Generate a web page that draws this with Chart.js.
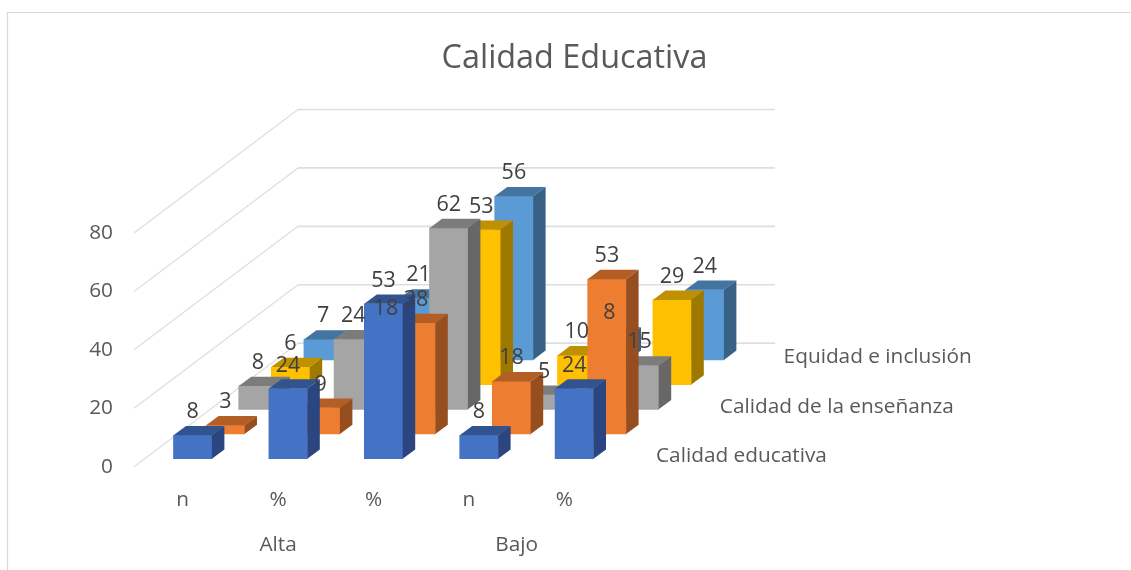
<!DOCTYPE html>
<html>
<head>
<meta charset="utf-8">
<style>html,body{margin:0;padding:0;background:#fff}canvas{display:block}</style>
<script src="https://cdn.jsdelivr.net/npm/chart.js@4/dist/chart.umd.min.js"></script>
</head>
<body>
<canvas id="c" width="1131" height="570"></canvas>
<script>
const categories = ["n", "%", "%", "n", "%"];
const groups = [{label: "Alta", from: 0, to: 2}, {label: "Bajo", from: 3, to: 4}];
const seriesNames = ["Calidad educativa", "Serie 2", "Calidad de la enseñanza", "Serie 4", "Equidad e inclusión"];
const shownDepthLabels = ["Calidad educativa", "Calidad de la enseñanza", "Equidad e inclusión"];
const blueValues = [8, 24, 53, 8, 24];
const orangeValues = [3, 9, 38, 18, 53];
const grayValues = [8, 24, 62, 5, 15];
const yellowValues = [6, 18, 53, 10, 29];
const lightBlueValues = [7, 21, 56, 8, 24];
const seriesValues = [blueValues, orangeValues, grayValues, yellowValues, lightBlueValues];
const frontColors = ["#4472C4", "#ED7D31", "#A5A5A5", "#FFC000", "#5B9BD5"];
const topColors = ["#31548F", "#B35E25", "#7C7C7C", "#BF9000", "#4475A1"];
const sideColors = ["#2A4580", "#964E1F", "#676767", "#9F7800", "#386185"];

const FONT = "'Open Sans', sans-serif";
const TEXT = "#595959", LABEL = "#404040", GRID = "#dedede";
const STEP_X = 32.6, STEP_Y = 24.7, N = seriesValues.length;
const GAP_X = 10, GAP_Y = 8;
const FACE_X = 12.5, FACE_Y = 9.3;
const AXIS_FS = 20.8, LABEL_FS = 21.5;

const shiftX = i => GAP_X + i * STEP_X;
const shiftY = i => -GAP_Y - i * STEP_Y;

const bars3d = {
  id: "bars3d",
  afterLayout(chart) {
    chart.titleBlock.left = 18;
    chart.titleBlock.right = 1131;
  },
  beforeDraw(chart) {
    const {ctx} = chart;
    ctx.save();
    ctx.fillStyle = "#fff";
    ctx.fillRect(0, 0, chart.width, chart.height);
    ctx.strokeStyle = "#d9d9d9";
    ctx.lineWidth = 1.2;
    ctx.beginPath();
    ctx.moveTo(7.5, chart.height);
    ctx.lineTo(7.5, 12.5);
    ctx.lineTo(chart.width, 12.5);
    ctx.stroke();
    ctx.restore();
  },
  beforeDatasetsDraw(chart) {
    const {ctx, chartArea: a, scales: {y}} = chart;
    const dx = N * STEP_X, dy = N * STEP_Y;
    ctx.save();
    ctx.strokeStyle = GRID;
    y.ticks.forEach(t => {
      const py = y.getPixelForValue(t.value);
      ctx.lineWidth = 1.2;
      ctx.beginPath();
      ctx.moveTo(a.left - 1, py);
      ctx.lineTo(a.left + dx, py - dy);
      ctx.stroke();
      ctx.lineWidth = 1.7;
      ctx.beginPath();
      ctx.moveTo(a.left + dx, py - dy);
      ctx.lineTo(a.right + dx, py - dy);
      ctx.stroke();
    });
    ctx.restore();
  },
  beforeDatasetDraw(chart, args) {
    const {ctx} = chart;
    ctx.save();
    ctx.translate(shiftX(args.index), shiftY(args.index));
  },
  afterDatasetDraw(chart, args) {
    const {ctx} = chart;
    const i = args.index;
    args.meta.data.forEach(el => {
      const {x, y, base, width} = el.getProps(["x", "y", "base", "width"], true);
      const l = x - width / 2, r = x + width / 2;
      ctx.fillStyle = topColors[i];
      ctx.beginPath();
      ctx.moveTo(l, y);
      ctx.lineTo(l + FACE_X, y - FACE_Y);
      ctx.lineTo(r + FACE_X, y - FACE_Y);
      ctx.lineTo(r, y);
      ctx.closePath();
      ctx.fill();
      ctx.fillStyle = sideColors[i];
      ctx.beginPath();
      ctx.moveTo(r, y);
      ctx.lineTo(r + FACE_X, y - FACE_Y);
      ctx.lineTo(r + FACE_X, base - FACE_Y);
      ctx.lineTo(r, base);
      ctx.closePath();
      ctx.fill();
    });
    ctx.restore();
  },
  afterDatasetsDraw(chart) {
    const {ctx, chartArea: a, scales: {x: xs, y: ys}} = chart;
    ctx.save();
    ctx.textBaseline = "middle";
    ctx.font = LABEL_FS + "px " + FONT;
    ctx.fillStyle = LABEL;
    ctx.textAlign = "center";
    for (let i = N - 1; i >= 0; i--) {
      chart.getDatasetMeta(i).data.forEach((el, j) => {
        const p = el.getProps(["x", "y"], true);
        ctx.fillText(String(seriesValues[i][j]), p.x + shiftX(i), p.y + shiftY(i) - 23.2);
      });
    }
    ctx.font = AXIS_FS + "px " + FONT;
    ctx.fillStyle = TEXT;
    ctx.textAlign = "left";
    seriesNames.forEach((name, i) => {
      if (!shownDepthLabels.includes(name)) return;
      ctx.fillText(name, a.right + i * STEP_X + 44 - i * 0.7, ys.getPixelForValue(0) + shiftY(i) - 2.7);
    });
    ctx.textAlign = "center";
    groups.forEach(g => {
      const cx = (xs.getPixelForTick(g.from) + xs.getPixelForTick(g.to)) / 2;
      ctx.fillText(g.label, cx, 545.5);
    });
    ctx.restore();
  }
};

new Chart(document.getElementById("c"), {
  type: "bar",
  data: {
    labels: categories,
    datasets: seriesValues.map((v, i) => ({
      label: seriesNames[i],
      data: v,
      backgroundColor: frontColors[i],
      borderWidth: 0,
      barThickness: 38.4,
      grouped: false,
      clip: false
    }))
  },
  plugins: [bars3d],
  options: {
    responsive: false,
    animation: false,
    events: [],
    layout: {padding: {left: 0, top: 0, right: 519, bottom: 0}},
    plugins: {
      legend: {display: false},
      tooltip: {enabled: false},
      title: {
        display: true,
        text: "Calidad Educativa",
        color: TEXT,
        font: {family: FONT, size: 32.4, weight: "normal", lineHeight: 1.2},
        padding: {top: 39.5, bottom: 154.6}
      }
    },
    scales: {
      x: {
        grid: {display: false, drawTicks: false},
        border: {display: false},
        ticks: {color: TEXT, font: {family: FONT, size: AXIS_FS}, padding: 21, maxRotation: 0, autoSkip: false},
        afterFit(s) { s.height = 103.3; }
      },
      y: {
        min: 0,
        max: 80,
        grid: {display: false, drawTicks: false},
        border: {display: false},
        ticks: {stepSize: 20, color: TEXT, font: {family: FONT, size: AXIS_FS}, padding: 22},
        afterFit(s) { s.width = 135; }
      }
    }
  }
});
</script>
</body>
</html>
